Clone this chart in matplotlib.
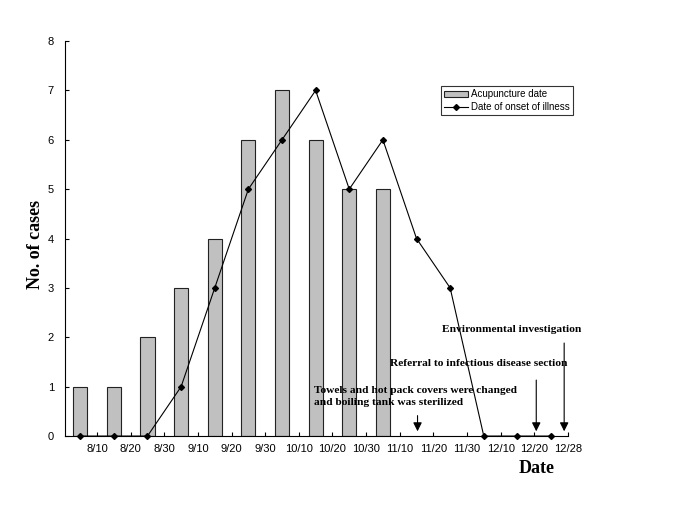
import numpy as np
import matplotlib
matplotlib.use("Agg")
import matplotlib.pyplot as plt

# Data
bar_values = [1, 1, 2, 3, 4, 6, 7, 6, 5, 5]
onset_values = [0, 0, 0, 1, 3, 5, 6, 7, 5, 6, 4, 3, 0, 0, 0]
tick_labels = ['8/10', '8/20', '8/30', '9/10', '9/20', '9/30', '10/10', '10/20',
               '10/30', '11/10', '11/20', '11/30', '12/10', '12/20', '12/28']

sans = ['Liberation Sans', 'DejaVu Sans']
serif = ['Liberation Serif', 'DejaVu Serif']

fig = plt.figure(figsize=(6.85, 5.13), dpi=100)
ax = fig.add_axes([0.095, 0.150, 0.734, 0.770])

# Bars and line
bx = np.arange(len(bar_values))
lx = np.arange(len(onset_values))
bars = ax.bar(bx, bar_values, width=0.42, color='#c0c0c0', edgecolor='#222222',
              linewidth=0.8, label='Acupuncture date', zorder=2)
line, = ax.plot(lx, onset_values, color='black', linewidth=0.8, marker='D',
                markersize=3, label='Date of onset of illness', zorder=3,
                clip_on=False)

# Axes
ax.set_xlim(-0.45, 14.5)
ax.set_ylim(0, 8)
ax.spines['top'].set_visible(False)
ax.spines['right'].set_visible(False)
ax.spines['left'].set_linewidth(0.8)
ax.spines['bottom'].set_linewidth(0.8)

ax.set_xticks(np.arange(len(tick_labels)) + 0.5)
ax.set_xticklabels(tick_labels, fontsize=8, family=sans)
ax.set_yticks(range(9))
ax.set_yticklabels([str(i) for i in range(9)], fontsize=8, family=sans)
ax.tick_params(axis='both', direction='in', length=3, width=0.8, pad=6)
ax.tick_params(axis='y', pad=8)

ax.set_ylabel('No. of cases', fontsize=13, fontweight='bold', family=serif)
ax.yaxis.set_label_coords(-0.042, 0.486)
fig.text(0.784, 0.087, 'Date', fontsize=13, fontweight='bold', family=serif,
         ha='center', va='center')

# Legend
leg = ax.legend([bars, line], ['Acupuncture date', 'Date of onset of illness'],
                loc='upper left', bbox_to_anchor=(0.748, 0.885),
                prop={'family': sans, 'size': 7}, frameon=True, fancybox=False,
                edgecolor='black', handlelength=2.5, handleheight=0.6,
                borderpad=0.3, labelspacing=0.3, handletextpad=0.3,
                borderaxespad=0)
leg.get_frame().set_linewidth(0.8)

# Annotations
arrow_kw = dict(arrowstyle='-|>', color='black', lw=0.8, mutation_scale=13)
ax.annotate('', xy=(10.03, 0.04), xytext=(10.03, 0.47), arrowprops=arrow_kw)
ax.annotate('', xy=(13.56, 0.04), xytext=(13.56, 1.19), arrowprops=arrow_kw)
ax.annotate('', xy=(14.39, 0.04), xytext=(14.39, 1.94), arrowprops=arrow_kw)

ax.text(6.95, 0.80, 'Towels and hot pack covers were changed\nand boiling tank was sterilized',
        fontsize=8.2, fontweight='bold', family=serif, ha='left', va='center',
        linespacing=1.4)
ax.text(9.2, 1.47, 'Referral to infectious disease section', fontsize=8.2,
        fontweight='bold', family=serif, ha='left', va='center')
ax.text(10.77, 2.15, 'Environmental investigation', fontsize=8.2,
        fontweight='bold', family=serif, ha='left', va='center')

fig.savefig('out.png', dpi=100)
